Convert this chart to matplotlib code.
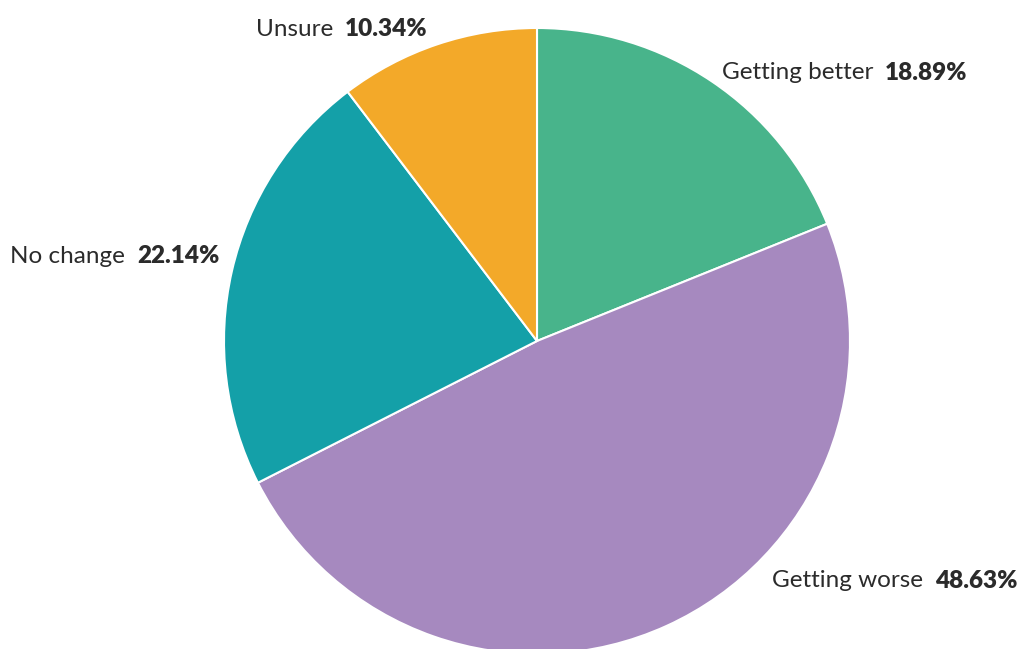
import matplotlib
matplotlib.use("Agg")
import matplotlib.pyplot as plt

# Survey answers and their shares
categories = ["Getting better", "Getting worse", "No change", "Unsure"]
shares = [18.89, 48.63, 22.14, 10.34]
colors = ["#48B48B", "#A689BF", "#14A0A8", "#F3A929"]

# label anchor (axes data units, radius = 1) and side of the pie
label_pos = [(0.59, 0.857, "left"), (0.75, -0.766, "left"),
             (-1.015, 0.27, "right"), (-0.35, 0.996, "right")]

plt.rcParams["font.family"] = ["Lato", "DejaVu Sans"]
text_color = "#2b2b2b"
fsize = 17.5

fig = plt.figure(figsize=(10.2, 6.49), dpi=100)
ax = fig.add_axes([224 / 1020, -5 / 649, 626 / 1020, 626 / 649])

wedges, _ = ax.pie(shares, colors=colors, startangle=90, counterclock=False,
                   radius=1.0, wedgeprops=dict(edgecolor="white", linewidth=1.5))
ax.set_xlim(-1, 1)
ax.set_ylim(-1, 1)
ax.set_aspect("equal")
ax.axis("off")

for name, val, (x, y, side) in zip(categories, shares, label_pos):
    val_txt = f"{val:.2f}%"
    if side == "left":
        t = ax.text(x, y, name, ha="left", va="center", fontsize=fsize,
                    color=text_color, clip_on=False)
        ax.annotate(val_txt, xy=(1, 0.5), xycoords=t, xytext=(8.5, 0),
                    textcoords="offset points", ha="left", va="center",
                    fontsize=fsize, fontweight="heavy", color=text_color)
    else:
        t = ax.text(x, y, val_txt, ha="right", va="center", fontsize=fsize,
                    fontweight="heavy", color=text_color, clip_on=False)
        ax.annotate(name, xy=(0, 0.5), xycoords=t, xytext=(-8.5, 0),
                    textcoords="offset points", ha="right", va="center",
                    fontsize=fsize, color=text_color)

fig.savefig("out.png", dpi=100)
